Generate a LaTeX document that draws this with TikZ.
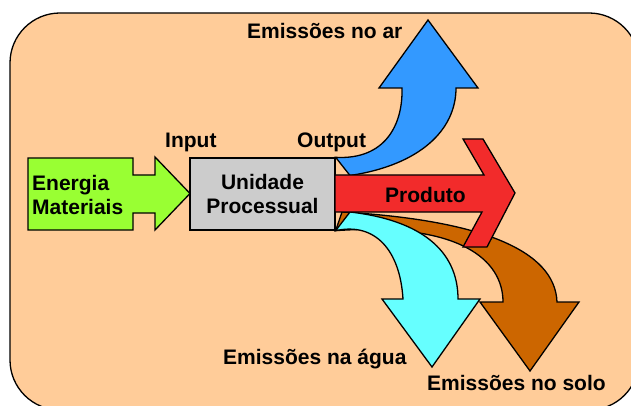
\documentclass[tikz,border=0pt]{standalone}
\usepackage{fontspec}
\setmainfont{Liberation Sans}
\begin{document}
\begin{tikzpicture}[x=1pt,y=-1pt,
  outline/.style={draw=black,line width=1.3pt,line join=miter},
  label/.style={font=\bfseries\fontsize{21}{24}\selectfont,inner sep=0pt,text=black},
]
\definecolor{peach}{HTML}{FFCC99}
\definecolor{lime}{HTML}{99FF33}
\definecolor{boxgray}{HTML}{CCCCCC}
\definecolor{skyblue}{HTML}{3399FF}
\definecolor{aqua}{HTML}{66FFFF}
\definecolor{soil}{HTML}{CC6600}
\definecolor{prodred}{HTML}{F22B2B}

\useasboundingbox (0,0) rectangle (631,406);
\clip (0,0) rectangle (631,406);
\fill[white] (0,0) rectangle (631,406);

% background panel
\draw[fill=peach,line width=1.3pt,rounded corners=50pt] (10,13) rectangle (639,410);

% input arrow (energy and materials)
\draw[outline,fill=lime] (28,158) -- (133,158) -- (133,175) -- (155,175) -- (155,157)
  -- (190,193.5) -- (155,230) -- (155,213) -- (133,213) -- (133,230) -- (28,230) -- cycle;
\node[label,align=left,anchor=west] (inp) at (32,195) {Energia\\Materiais};

% process unit
\node[outline,fill=boxgray,minimum width=145pt,minimum height=72pt,inner sep=0pt,
  label,align=center] (unit) at (262.5,194) {Unidade\\Processual};

% emissions to air
\draw[outline,fill=skyblue] (unit.north east) .. controls (385,160) and (403,125) .. (402,88)
  -- (379,88) -- (428,20) -- (478,88) -- (456,88)
  .. controls (456,130) and (420,165) .. (350,175.5) -- cycle;

% emissions to soil
\draw[outline,fill=soil] (unit.south east) .. controls (460,222) and (503,260) .. (503,302)
  -- (480,302) -- (530,371) -- (579,302) -- (557,302)
  .. controls (555,250) and (480,220) .. (342,212) -- cycle;

% emissions to water
\draw[outline,fill=aqua] (unit.south east) .. controls (375,222) and (400,250) .. (403,299)
  -- (382,299) -- (432,367) -- (480,299) -- (458,299)
  .. controls (458,250) and (420,220) .. (350,212) -- cycle;

% product arrow
\draw[outline,fill=prodred] (335,175) -- (484,175) -- (463,139) -- (483,139) -- (515,193)
  -- (487,247) -- (463,247) -- (482,212) -- (335,212) -- cycle;

% labels
\node[label,anchor=base west] (air) at (247,39) {Emissões no ar};
\node[label,anchor=base west] (input) at (165,148) {Input};
\node[label,anchor=base west] (output) at (297,148) {Output};
\node[label,anchor=base west] (prod) at (385,202) {Produto};
\node[label,anchor=base west] (water) at (223,364) {Emissões na água};
\node[label,anchor=base west] (soil) at (427,390) {Emissões no solo};
\end{tikzpicture}
\end{document}
